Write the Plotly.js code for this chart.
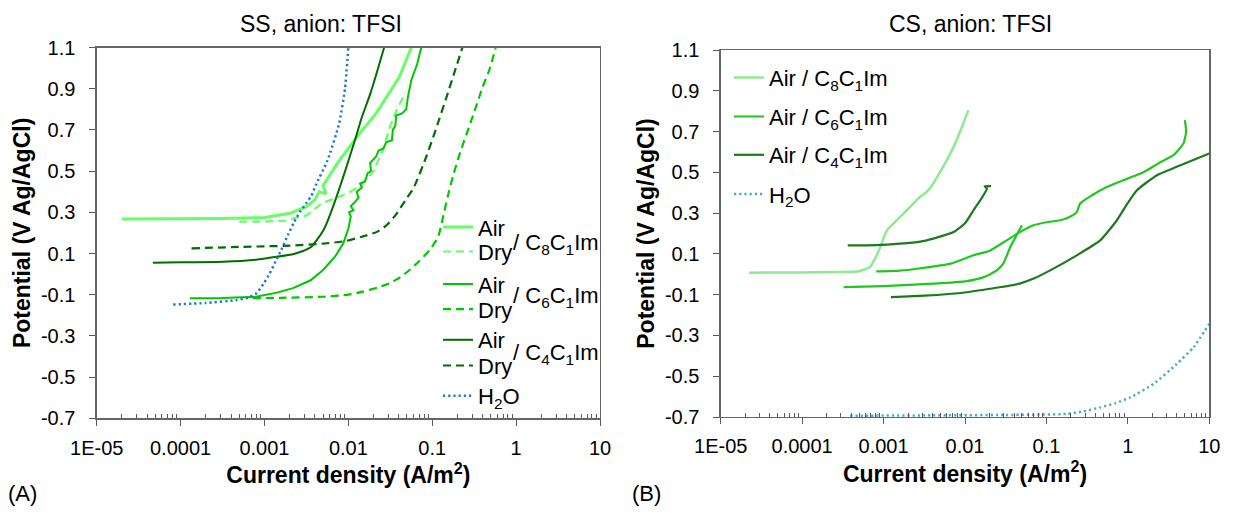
<!DOCTYPE html>
<html><head><meta charset="utf-8">
<script src="https://cdn.plot.ly/plotly-3.0.1.min.js"></script>
<style>html,body{margin:0;padding:0;background:#fff}#chart{width:1238px;height:513px}</style>
</head><body><div id="chart"></div>
<script>
// ---------- tick labels ----------
const xTickVals = [1e-5, 1e-4, 1e-3, 1e-2, 1e-1, 1, 10];
const xTickText = ['1E-05', '0.0001', '0.001', '0.01', '0.1', '1', '10'];
const yTickVals = [-0.7, -0.5, -0.3, -0.1, 0.1, 0.3, 0.5, 0.7, 0.9, 1.1];
const yTickText = ['-0.7', '-0.5', '-0.3', '-0.1', '0.1', '0.3', '0.5', '0.7', '0.9', '1.1'];

// ---------- (A) SS, anion: TFSI ----------
const ssAirC8_i = [2.0e-5, 1.0e-4, 3.16e-4, 1.0e-3, 2.0e-3, 3.16e-3, 3.98e-3, 4.5e-3, 5.4e-3, 5.0e-3, 5.6e-3, 7.9e-3, 0.01365, 0.0214, 0.0407, 0.0562];
const ssAirC8_v = [0.267, 0.268, 0.27, 0.275, 0.295, 0.327, 0.36, 0.40, 0.39, 0.43, 0.46, 0.554, 0.683, 0.78, 0.958, 1.1];
const ssDryC8_i = [5.0e-4, 1.0e-3, 1.78e-3, 3.16e-3, 4.9e-3, 7.08e-3, 9.55e-3, 0.0141, 0.020, 0.0257, 0.0316, 0.038, 0.0447, 0.0479];
const ssDryC8_v = [0.255, 0.255, 0.26, 0.285, 0.345, 0.37, 0.39, 0.43, 0.50, 0.60, 0.72, 0.80, 0.86, 0.88];
const ssAirC6_i = [1.29e-4, 3.16e-4, 7.94e-4, 1.41e-3, 2.19e-3, 3.55e-3, 5.0e-3, 7.08e-3, 8.71e-3, 0.0100, 0.0107, 0.0102, 0.0115, 0.0107, 0.0120, 0.0132, 0.0126, 0.0145, 0.0138, 0.0158, 0.0170, 0.0186, 0.0182, 0.0214, 0.0229, 0.0263, 0.0282, 0.0331, 0.0339, 0.0363, 0.0372, 0.0437, 0.0490, 0.0513, 0.0562, 0.0661, 0.0741];
const ssAirC6_v = [-0.117, -0.116, -0.11, -0.09, -0.068, -0.03, 0.02, 0.09, 0.15, 0.22, 0.28, 0.30, 0.31, 0.33, 0.35, 0.37, 0.40, 0.42, 0.44, 0.45, 0.49, 0.50, 0.54, 0.57, 0.60, 0.61, 0.64, 0.65, 0.70, 0.72, 0.77, 0.78, 0.80, 0.86, 0.94, 1.02, 1.1];
const ssDryC6_i = [7.24e-4, 1.58e-3, 5.0e-3, 0.01, 0.0149, 0.0224, 0.0309, 0.0417, 0.0537, 0.0708, 0.0933, 0.1175, 0.135, 0.158, 0.178, 0.219, 0.2735, 0.331, 0.398, 0.479, 0.571];
const ssDryC6_v = [-0.117, -0.115, -0.11, -0.10, -0.085, -0.065, -0.045, -0.015, 0.02, 0.065, 0.117, 0.18, 0.28, 0.40, 0.48, 0.60, 0.712, 0.81, 0.907, 0.99, 1.1];
const ssAirC4_i = [4.68e-5, 1.0e-4, 3.24e-4, 7.94e-4, 1.39e-3, 2.24e-3, 2.88e-3, 3.55e-3, 4.07e-3, 5.0e-3, 5.62e-3, 6.92e-3, 8.61e-3, 0.0119, 0.01445, 0.0182, 0.0219, 0.0267];
const ssAirC4_v = [0.055, 0.057, 0.06, 0.07, 0.084, 0.098, 0.112, 0.13, 0.158, 0.21, 0.255, 0.353, 0.467, 0.646, 0.76, 0.874, 0.98, 1.1];
const ssDryC4_i = [1.35e-4, 5.0e-4, 2.0e-3, 5.0e-3, 9.12e-3, 0.0141, 0.0219, 0.0282, 0.0363, 0.0501, 0.0603, 0.0832, 0.112, 0.151, 0.191, 0.229];
const ssDryC4_v = [0.125, 0.132, 0.138, 0.148, 0.16, 0.18, 0.205, 0.235, 0.285, 0.37, 0.42, 0.56, 0.71, 0.87, 1.0, 1.1];
const ssH2O_i = [8.17e-5, 2.0e-4, 4.65e-4, 6.31e-4, 8.04e-4, 1.0e-3, 1.156e-3, 1.35e-3, 1.585e-3, 1.905e-3, 2.24e-3, 2.63e-3, 3.16e-3, 3.63e-3, 4.07e-3, 5.62e-3, 7.76e-3, 9.12e-3, 0.01];
const ssH2O_v = [-0.148, -0.14, -0.126, -0.115, -0.093, -0.04, 0.004, 0.06, 0.117, 0.19, 0.25, 0.30, 0.345, 0.38, 0.43, 0.55, 0.73, 0.90, 1.1];

// ---------- (B) CS, anion: TFSI ----------
const csAirC8_i = [2.24e-5, 1.0e-4, 2.42e-4, 5.01e-4, 6.82e-4, 7.94e-4, 9.12e-4, 1.096e-3, 1.41e-3, 1.93e-3, 2.82e-3, 3.39e-3, 4.07e-3, 5.62e-3, 7.24e-3, 8.91e-3, 0.0110];
const csAirC8_v = [0.008, 0.009, 0.011, 0.015, 0.035, 0.08, 0.133, 0.215, 0.26, 0.314, 0.38, 0.404, 0.445, 0.54, 0.625, 0.71, 0.805];
const csAirC6a_i = [8.13e-4, 1.585e-3, 2.57e-3, 6.61e-3, 0.0127, 0.0204, 0.0324, 0.0473, 0.0692, 0.1, 0.148, 0.2, 0.236, 0.259, 0.355, 0.55, 1.0, 1.574, 2.51, 3.63, 4.82, 5.2, 5.01];
const csAirC6a_v = [0.014, 0.018, 0.027, 0.052, 0.093, 0.117, 0.166, 0.207, 0.24, 0.255, 0.265, 0.285, 0.305, 0.347, 0.385, 0.428, 0.47, 0.502, 0.55, 0.584, 0.642, 0.699, 0.756];
const csAirC6b_i = [3.24e-4, 1.0e-3, 4.07e-3, 0.01, 0.017, 0.0245, 0.0295, 0.0359, 0.0501];
const csAirC6b_v = [-0.063, -0.058, -0.046, -0.035, -0.014, 0.019, 0.052, 0.133, 0.24];
const csAirC4a_i = [3.63e-4, 7.94e-4, 1.585e-3, 2.82e-3, 4.07e-3, 7.24e-3, 0.01, 0.0127, 0.0158, 0.0186, 0.0174, 0.0209];
const csAirC4a_v = [0.142, 0.143, 0.15, 0.16, 0.175, 0.207, 0.25, 0.314, 0.37, 0.42, 0.432, 0.432];
const csAirC4b_i = [1.23e-3, 3.16e-3, 0.0105, 0.0251, 0.0468, 0.0708, 0.111, 0.236, 0.457, 0.733, 1.0, 1.29, 2.275, 3.98, 10];
const csAirC4b_v = [-0.112, -0.105, -0.088, -0.065, -0.046, -0.02, 0.019, 0.093, 0.166, 0.265, 0.35, 0.412, 0.486, 0.527, 0.592];
const csH2O_i = [3.89e-4, 3.16e-3, 0.0316, 0.178, 0.282, 0.457, 0.708, 1.07, 2.065, 3.98, 6.4, 10];
const csH2O_v = [-0.694, -0.692, -0.69, -0.685, -0.673, -0.653, -0.632, -0.604, -0.538, -0.44, -0.358, -0.243];

// ---------- styling ----------
const FONT = 'Liberation Sans, Arial, sans-serif';
const W = 1238, H = 513;
const px = x => x / W;
const py = y => 1 - y / H;
const LIGHT = '#66ff66', MED = '#00c800', DARK = '#006e00', BLUE = '#1f78c8';
const LIGHT2 = '#8eea8e', MED2 = '#1fc81f', DARK2 = '#1c7a1c', AQUA = '#4bacc6';
const DASH = '8px,5px', DOT = '2.2px,3px';

function tr(x, y, name, color, width, dash, xa, ya, legend, shape, showlegend) {
  return {
    type: 'scatter', mode: 'lines', x: x, y: y, name: name, xaxis: xa, yaxis: ya,
    legend: legend, showlegend: showlegend !== false,
    line: {color: color, width: width, dash: dash, shape: shape || 'spline', smoothing: 0.5},
    hoverinfo: 'skip'
  };
}

const data = [
  tr(ssAirC8_i, ssAirC8_v, 'Air', LIGHT, 3, 'solid', 'x', 'y', 'legend', 'linear'),
  tr(ssDryC8_i, ssDryC8_v, 'Dry', LIGHT, 2.2, DASH, 'x', 'y', 'legend2', 'linear'),
  tr(ssAirC6_i, ssAirC6_v, 'Air', MED, 2, 'solid', 'x', 'y', 'legend3', 'linear'),
  tr(ssDryC6_i, ssDryC6_v, 'Dry', MED, 2.2, DASH, 'x', 'y', 'legend4'),
  tr(ssAirC4_i, ssAirC4_v, 'Air', DARK, 2, 'solid', 'x', 'y', 'legend5'),
  tr(ssDryC4_i, ssDryC4_v, 'Dry', DARK, 2.2, DASH, 'x', 'y', 'legend6'),
  tr(ssH2O_i, ssH2O_v, 'H<sub>2</sub>O', BLUE, 2.5, DOT, 'x', 'y', 'legend7'),
  tr(csAirC8_i, csAirC8_v, 'Air / C<sub>8</sub>C<sub>1</sub>Im', LIGHT2, 2.5, 'solid', 'x2', 'y2', 'legend8'),
  tr(csAirC6a_i, csAirC6a_v, 'Air / C<sub>6</sub>C<sub>1</sub>Im', MED2, 2.2, 'solid', 'x2', 'y2', 'legend9'),
  tr(csAirC6b_i, csAirC6b_v, 'Air / C6C1Im (2)', MED2, 2.2, 'solid', 'x2', 'y2', 'legend9', 'spline', false),
  tr(csAirC4a_i, csAirC4a_v, 'Air / C<sub>4</sub>C<sub>1</sub>Im', DARK2, 2.2, 'solid', 'x2', 'y2', 'legend10'),
  tr(csAirC4b_i, csAirC4b_v, 'Air / C4C1Im (2)', DARK2, 2.2, 'solid', 'x2', 'y2', 'legend10', 'spline', false),
  tr(csH2O_i, csH2O_v, 'H<sub>2</sub>O', AQUA, 2.5, DOT, 'x2', 'y2', 'legend11')
];

const minorVals = [];
for (let d = -5; d <= 0; d++) for (let k = 2; k <= 9; k++) minorVals.push(k * Math.pow(10, d));

function xAxis(domain, anchor) {
  return {
    type: 'log', range: [-5, 1], domain: domain, anchor: anchor,
    tickmode: 'array', tickvals: xTickVals, ticktext: xTickText,
    ticks: 'outside', ticklen: 6, tickwidth: 1, tickcolor: '#595959',
    showline: true, linecolor: '#666', linewidth: 1.3, mirror: true,
    showgrid: false, zeroline: false, automargin: false, fixedrange: true,
    tickfont: {family: FONT, size: 20, color: '#000'}, ticklabelstandoff: 5,
    minor: {tickmode: 'array', tickvals: minorVals, ticks: 'inside', ticklen: 4, tickcolor: '#595959', showgrid: false},
    title: {text: '<b>Current density (A/m<sup>2</sup>)</b>', font: {family: FONT, size: 23, color: '#000'}, standoff: 5}
  };
}
function yAxis(domain, anchor) {
  return {
    range: [-0.7, 1.1], domain: domain, anchor: anchor,
    tickmode: 'array', tickvals: yTickVals, ticktext: yTickText,
    ticks: 'outside', ticklen: 6, tickwidth: 1, tickcolor: '#595959',
    showline: true, linecolor: '#666', linewidth: 1.3, mirror: true,
    showgrid: false, zeroline: false, automargin: false, fixedrange: true,
    tickfont: {family: FONT, size: 20, color: '#000'}, ticklabelstandoff: 10,
    title: {text: '<b>Potential (V Ag/AgCl)</b>', font: {family: FONT, size: 23, color: '#000'}, standoff: 4}
  };
}

function leg(xpx, ypx, size) {
  return {x: px(xpx), y: py(ypx), xanchor: 'left', yanchor: 'middle', xref: 'paper', yref: 'paper',
    bgcolor: 'rgba(0,0,0,0)', borderwidth: 0, itemwidth: 30, itemclick: false, itemdoubleclick: false,
    font: {family: FONT, size: size, color: '#000'}};
}

function ann(text, xpx, ypx, size, xanchor) {
  return {text: text, x: px(xpx), y: py(ypx), xref: 'paper', yref: 'paper', showarrow: false,
    xanchor: xanchor || 'left', yanchor: 'middle', font: {family: FONT, size: size, color: '#000'}};
}

const layout = {
  width: W, height: H, margin: {l: 0, r: 0, t: 0, b: 0},
  paper_bgcolor: '#fff', plot_bgcolor: '#fff', showlegend: true,
  xaxis: xAxis([px(96.7), px(600)], 'y'),
  yaxis: yAxis([py(418.3), py(47.5)], 'x'),
  xaxis2: xAxis([px(720.7), px(1209.3)], 'y2'),
  yaxis2: yAxis([py(417), py(50)], 'x2'),
  legend: leg(438, 227.3, 22),
  legend2: leg(438, 251.7, 22),
  legend3: leg(438, 284.3, 22),
  legend4: leg(438, 309.3, 22),
  legend5: leg(438, 340, 22),
  legend6: leg(438, 365.7, 22),
  legend7: leg(438, 396, 22),
  legend8: leg(729, 77.7, 22),
  legend9: leg(729, 116.7, 22),
  legend10: leg(729, 155, 22),
  legend11: leg(729, 194.3, 22),
  annotations: [
    ann('SS, anion: TFSI', 321, 24, 23, 'center'),
    ann('CS, anion: TFSI', 970, 24, 23, 'center'),
    ann('/ C<sub>8</sub>C<sub>1</sub>Im', 511, 244, 22),
    ann('/ C<sub>6</sub>C<sub>1</sub>Im', 511, 297, 22),
    ann('/ C<sub>4</sub>C<sub>1</sub>Im', 511, 354, 22),
    ann('(A)', 6, 493, 22),
    ann('(B)', 630, 493, 22)
  ]
};

Plotly.newPlot('chart', data, layout, {staticPlot: true, displayModeBar: false});
</script></body></html>
